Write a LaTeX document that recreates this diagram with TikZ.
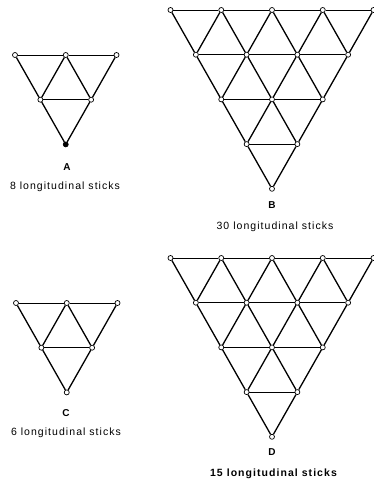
\documentclass[tikz,border=0pt]{standalone}
\usepackage{fontspec}
\setmainfont{Liberation Sans}
\newfontfamily\capfont[LetterSpace=10]{Liberation Sans}
\usetikzlibrary{positioning}

\tikzset{
  joint/.style={circle,draw,fill=white,line width=0.7pt,inner sep=0pt,minimum size=5pt},
  stick/.style={line width=1.3pt},
  crossbar/.style={line width=0.9pt},
  letter/.style={font=\fontsize{10}{11}\selectfont\bfseries},
  capt/.style={font=\capfont\fontsize{10.5}{12}\selectfont},
}

\begin{document}
\begin{tikzpicture}[x=1pt,y=-1pt]
  \useasboundingbox (0,0) rectangle (374,482);
  % the four lattices: name / top-left corner / number of rows / tip fill
  \foreach \tri/\xo/\yo/\n/\tc in {A/15/55/2/black, B/170.5/10/4/white, C/16/303/2/white, D/170.5/258/4/white}{
    \foreach \r in {0,...,\n}{
      \pgfmathtruncatemacro\m{\n-\r}
      \foreach \k in {0,...,\m}{
        \ifnum\r=\n \def\fc{\tc}\else\def\fc{white}\fi
        \node[joint,fill=\fc] (\tri-\r-\k) at ({\xo+(0.5*\r+\k)*50.75},{\yo+\r*44.7}) {};
      }
    }
    \pgfmathtruncatemacro\nn{\n-1}
    \foreach \r in {0,...,\nn}{
      \pgfmathtruncatemacro\rr{\r+1}
      \pgfmathtruncatemacro\m{\n-\r-1}
      \foreach \k in {0,...,\m}{
        \pgfmathtruncatemacro\kk{\k+1}
        \draw[crossbar] (\tri-\r-\k) -- (\tri-\r-\kk);
        \draw[stick] (\tri-\r-\k) -- (\tri-\rr-\k);
        \draw[stick] (\tri-\r-\kk) -- (\tri-\rr-\k);
      }
    }
  }
  % letters and captions
  \foreach \tri/\lx/\ly/\cx/\cy/\txt in {A/67/167/65/187/8 longitudinal sticks,
      B/272/205/275/227/30 longitudinal sticks,
      C/66/413/66/433/6 longitudinal sticks,
      D/272/452/274/474/\textbf{15 longitudinal sticks}}{
    \node[letter] (\tri-name) at (\lx,\ly) {\tri};
    \node[capt] (\tri-note) at (\cx,\cy) {\txt};
  }
\end{tikzpicture}
\end{document}
